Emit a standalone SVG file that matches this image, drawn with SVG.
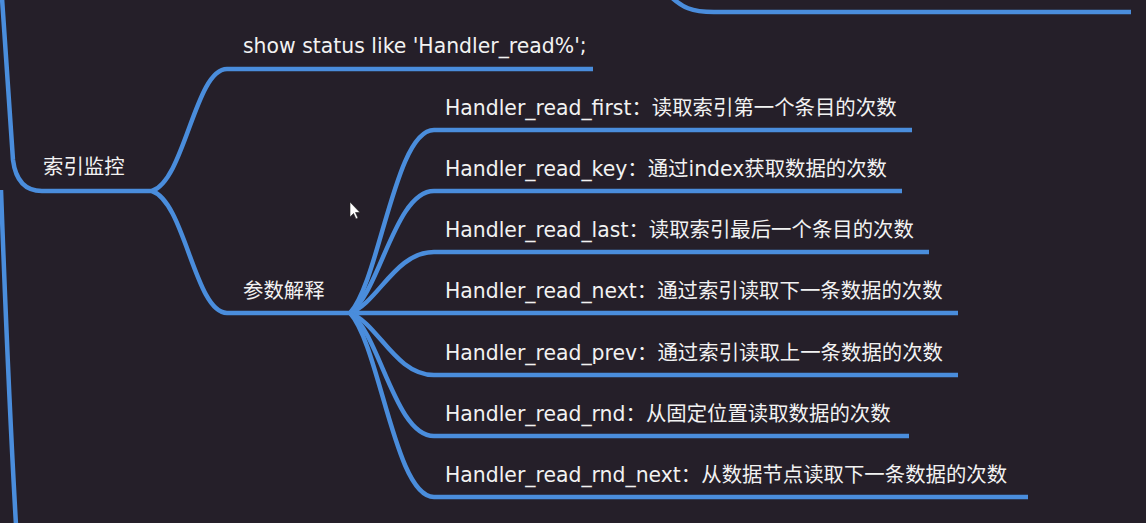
<svg xmlns="http://www.w3.org/2000/svg" width="1146" height="523" viewBox="0 0 1146 523">
<style>
.bg{fill:#251f29}
.c{fill:none;stroke:#4a8ddc;stroke-width:4.5;stroke-linecap:butt;stroke-linejoin:round}
.t{font-family:"DejaVu Sans","Noto Sans CJK SC",sans-serif;font-size:20.4px;fill:#f2f2f2}
</style>
<rect class="bg" x="0" y="0" width="1146" height="523"/>
<g id="connectors">
  <path class="c" d="M2,-2 L13,160 Q17,191 42,191 L152,191"/>
  <path class="c" d="M1,190 C5,300 10,420 16,525"/>
  <path class="c" d="M668,-6 C682,8 692,12 714,12 L1131,12"/>
  <path class="c" d="M152,191 C185,180 195,69 227,69 L593,69"/>
  <path class="c" d="M152,191 C185,202 195,313 227,313 L350,313"/>
  <path class="c" d="M350,313 C380,280 395,130 434,130 L912,130"/>
  <path class="c" d="M350,313 C380,292 395,191 434,191 L902,191"/>
  <path class="c" d="M350,313 C378,303 395,252 434,252 L929,252"/>
  <path class="c" d="M350,313 L958,313"/>
  <path class="c" d="M350,313 C378,323 395,375 434,375 L958,375"/>
  <path class="c" d="M350,313 C380,334 395,436 434,436 L909,436"/>
  <path class="c" d="M350,313 C380,346 395,497 434,497 L1028,497"/>
</g>
<g id="node-suoyinjiankong"><text class="t" x="43" y="174">索引监控</text></g>
<g id="node-show-status"><text class="t" x="243" y="53">show status like 'Handler_read%';</text></g>
<g id="node-canshujieshi"><text class="t" x="243" y="298">参数解释</text></g>
<g id="node-first"><text class="t" x="445" y="115">Handler_read_first：读取索引第一个条目的次数</text></g>
<g id="node-key"><text class="t" x="445" y="176">Handler_read_key：通过index获取数据的次数</text></g>
<g id="node-last"><text class="t" x="445" y="237">Handler_read_last：读取索引最后一个条目的次数</text></g>
<g id="node-next"><text class="t" x="445" y="298">Handler_read_next：通过索引读取下一条数据的次数</text></g>
<g id="node-prev"><text class="t" x="445" y="360">Handler_read_prev：通过索引读取上一条数据的次数</text></g>
<g id="node-rnd"><text class="t" x="445" y="421">Handler_read_rnd：从固定位置读取数据的次数</text></g>
<g id="node-rnd-next"><text class="t" x="445" y="482">Handler_read_rnd_next：从数据节点读取下一条数据的次数</text></g>
<path d="M350,202 L350,217 L353.5,213.5 L356,219 L358,218 L355.5,212.5 L360,212.5 Z" fill="#ffffff" stroke="#222" stroke-width="0.6"/>
</svg>
